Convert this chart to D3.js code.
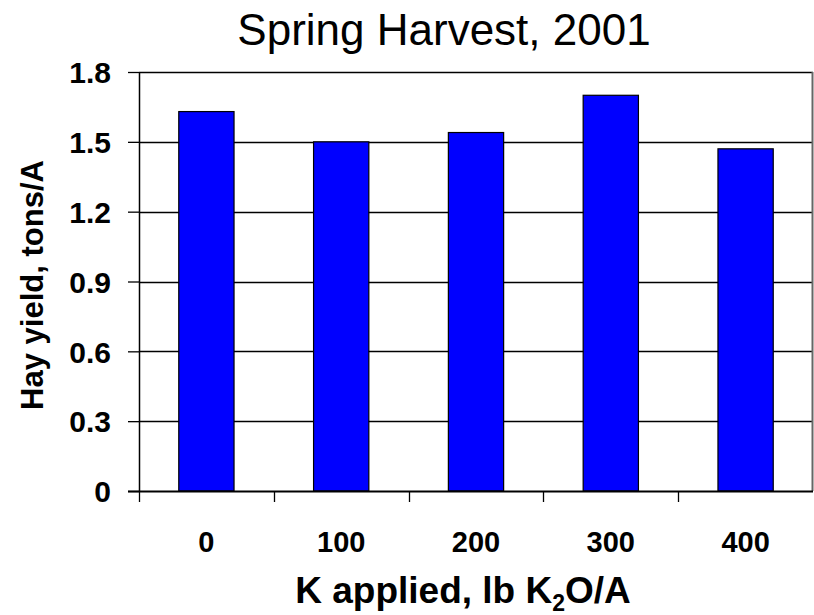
<!DOCTYPE html>
<html>
<head>
<meta charset="utf-8">
<script src="https://cdn.jsdelivr.net/npm/d3@7"></script>
<style>
  body { margin: 0; background: #fff; }
  text { font-family: "Liberation Sans", Arial, sans-serif; fill: #000; }
</style>
</head>
<body>
<div id="chart"></div>
<script>
// chart data
var categories = ["0", "100", "200", "300", "400"];
var yields = [1.63, 1.50, 1.54, 1.70, 1.47];
var yTicks = [0, 0.3, 0.6, 0.9, 1.2, 1.5, 1.8];

var W = 814, H = 615;
var margin = { top: 72, right: 1, bottom: 124, left: 139 },
    width = W - margin.left - margin.right,
    height = H - margin.top - margin.bottom;

var svg = d3.select("#chart")
    .append("svg")
    .attr("width", W)
    .attr("height", H);

var g = svg.append("g")
    .attr("transform", "translate(" + margin.left + "," + margin.top + ")");

var x = d3.scaleBand()
    .domain(categories)
    .range([0, width])
    .paddingInner(0.59)
    .paddingOuter(0.295);

var y = d3.scaleLinear()
    .domain([0, 1.8])
    .range([height, 0]);

// gridlines
g.selectAll(".grid")
    .data(yTicks.filter(d => d > 0))
    .enter()
    .append("line")
    .attr("x1", 0)
    .attr("x2", width)
    .attr("y1", d => Math.round(y(d)) + 0.5)
    .attr("y2", d => Math.round(y(d)) + 0.5)
    .attr("stroke", "#000")
    .attr("stroke-width", 1.3);

// right border of plot area
g.append("line")
    .attr("x1", width - 0.5).attr("x2", width - 0.5)
    .attr("y1", 0).attr("y2", height)
    .attr("stroke", "#666")
    .attr("stroke-width", 2);

// bars
g.selectAll("rect")
    .data(yields)
    .enter()
    .append("rect")
    .attr("x", (d, i) => x(categories[i]))
    .attr("y", d => y(d))
    .attr("width", x.bandwidth())
    .attr("height", d => height - y(d))
    .attr("fill", "#0000ff")
    .attr("stroke", "#000")
    .attr("stroke-width", 1.2);

// Y axis
var yAxis = g.append("g")
    .call(d3.axisLeft(y).tickValues(yTicks).tickSize(11).tickPadding(17)
        .tickFormat(d => d === 0 ? "0" : d3.format(".1f")(d)));
yAxis.select(".domain").attr("stroke", "#000").attr("stroke-width", 1.5)
    .attr("d", "M0.5,0V" + height);
yAxis.selectAll(".tick line").attr("stroke", "#000").attr("stroke-width", 1.3);
yAxis.selectAll("text")
    .style("font-size", "30px")
    .style("font-weight", "bold")
    .attr("dy", "0.36em")
    .style("font-family", "'Liberation Sans', Arial, sans-serif");

// X axis with ticks on band edges
var xAxis = g.append("g")
    .attr("transform", "translate(0," + height + ")");
xAxis.append("line")
    .attr("x1", -11).attr("x2", width)
    .attr("y1", 0.5).attr("y2", 0.5)
    .attr("stroke", "#000")
    .attr("stroke-width", 2);
xAxis.selectAll(".xtick")
    .data(categories)
    .enter()
    .append("line")
    .attr("x1", d => Math.round(x(d) - x.step() * x.paddingOuter()) + 0.5)
    .attr("x2", d => Math.round(x(d) - x.step() * x.paddingOuter()) + 0.5)
    .attr("y1", 0)
    .attr("y2", 11)
    .attr("stroke", "#000")
    .attr("stroke-width", 1.3);
xAxis.selectAll(".xlabel")
    .data(categories)
    .enter()
    .append("text")
    .attr("x", d => x(d) + x.bandwidth() / 2)
    .attr("y", 61)
    .attr("text-anchor", "middle")
    .style("font-size", "29px")
    .style("font-weight", "bold")
    .text(d => d);

// titles
svg.append("text")
    .attr("x", 444)
    .attr("y", 45)
    .attr("text-anchor", "middle")
    .style("font-size", "44px")
    .text("Spring Harvest, 2001");

var xt = svg.append("text")
    .attr("x", 463)
    .attr("y", 603)
    .attr("text-anchor", "middle")
    .style("font-size", "37px")
    .style("font-weight", "bold");
xt.append("tspan").text("K applied, lb K");
xt.append("tspan").attr("dy", 8).style("font-size", "23px").text("2");
xt.append("tspan").attr("dy", -8).text("O/A");

svg.append("text")
    .attr("transform", "translate(43," + 285 + ") rotate(-90)")
    .attr("text-anchor", "middle")
    .style("font-size", "31px")
    .style("font-weight", "bold")
    .text("Hay yield, tons/A");
</script>
</body>
</html>
